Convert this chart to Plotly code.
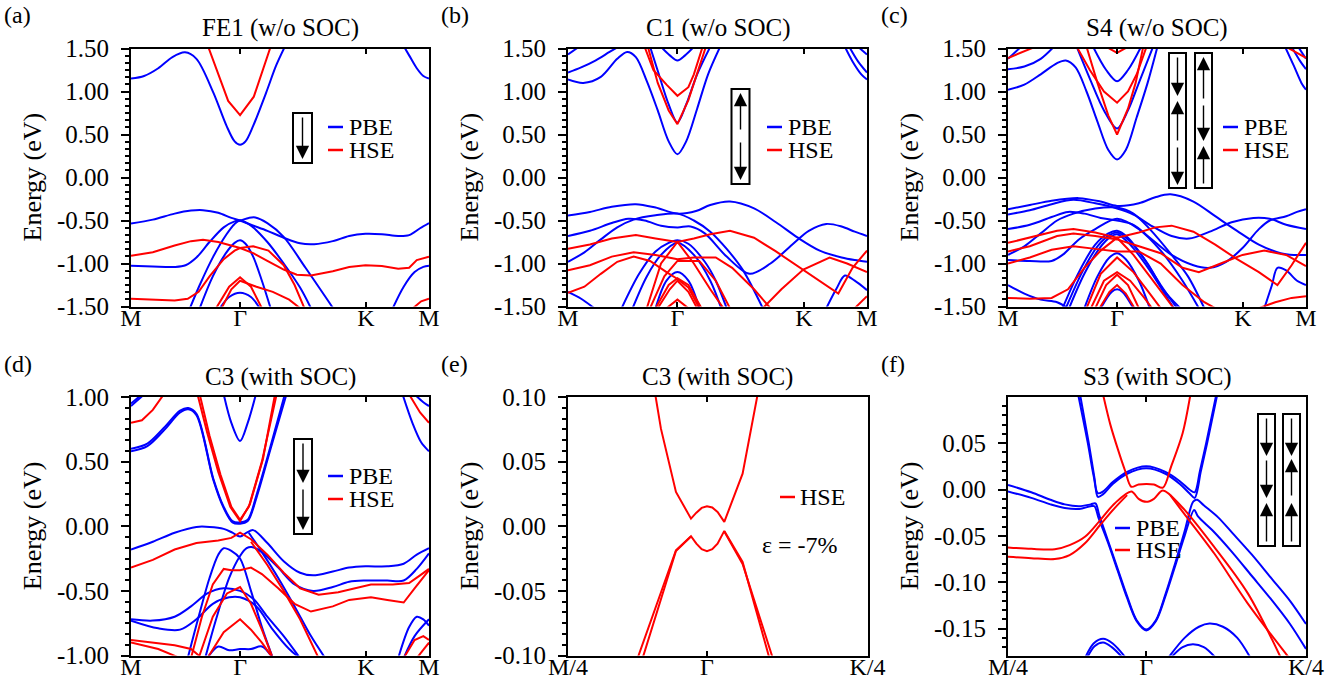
import plotly.graph_objects as go

W, H = 1329, 682
FONT = "Liberation Serif"
BLUE = "#0000ff"
RED = "#ff0000"

# ---------------- high-symmetry path (units of |Gamma-M|) ----------------
PATH_TICKS = [0.0, 1.0, 2.1547, 2.7321]
PATH_LABELS = ["M", "Γ", "K", "M"]
ZOOM_TICKS = [-0.1443, 0.0, 0.1667]
ZOOM_LABELS = ["M/4", "Γ", "K/4"]

# ---------------- (a) FE1 w/o SOC ----------------
A_PBE = [
    [(0, 1.15), (0.12, 1.18), (0.25, 1.27), (0.38, 1.40), (0.495, 1.455), (0.6, 1.38), (0.754, 0.99), (0.876, 0.60),
     (0.95, 0.42), (1.0, 0.38), (1.05, 0.42), (1.12, 0.60), (1.24, 0.99), (1.33, 1.30), (1.41, 1.52)],
    [(2.49, 1.55), (2.55, 1.42), (2.62, 1.27), (2.68, 1.18), (2.732, 1.15)],
    [(0, -0.535), (0.2, -0.49), (0.4, -0.42), (0.55, -0.385), (0.66, -0.38), (0.8, -0.41), (0.92, -0.47), (1.0, -0.50),
     (1.1, -0.55), (1.25, -0.62), (1.4, -0.70), (1.55, -0.765), (1.68, -0.775), (1.85, -0.74), (2.0, -0.68),
     (2.15, -0.655), (2.3, -0.66), (2.45, -0.68), (2.55, -0.67), (2.65, -0.59), (2.732, -0.53)],
    [(0, -1.027), (0.2, -1.035), (0.4, -1.04), (0.5, -1.02), (0.6, -0.93), (0.72, -0.75), (0.85, -0.58), (0.95, -0.51),
     (1.0, -0.50), (1.08, -0.47), (1.14, -0.465), (1.25, -0.53), (1.4, -0.69), (1.6, -1.05), (1.853, -1.52)],
    [(0.54, -1.52), (0.63, -1.25), (0.754, -0.92), (0.876, -0.66), (0.95, -0.54), (1.0, -0.50), (1.1, -0.56),
     (1.25, -0.75), (1.4, -1.0), (1.55, -1.28), (1.65, -1.52)],
    [(0.63, -1.52), (0.75, -1.15), (0.87, -0.88), (0.95, -0.76), (1.0, -0.73), (1.05, -0.77), (1.12, -0.92),
     (1.2, -1.2), (1.28, -1.52)],
    [(0.815, -1.52), (0.9, -1.39), (1.0, -1.34), (1.1, -1.39), (1.18, -1.52)],
    [(2.40, -1.52), (2.5, -1.27), (2.6, -1.1), (2.68, -1.04), (2.732, -1.027)],
]
A_HSE = [
    [(0.708, 1.52), (0.891, 0.89), (1.0, 0.725), (1.126, 0.94), (1.28, 1.52)],
    [(0, -0.91), (0.2, -0.87), (0.4, -0.79), (0.55, -0.74), (0.66, -0.725), (0.8, -0.75), (1.0, -0.82), (1.12, -0.88),
     (1.25, -0.97), (1.4, -1.07), (1.52, -1.13), (1.65, -1.14), (1.85, -1.09), (2.0, -1.04), (2.15, -1.02),
     (2.3, -1.03), (2.45, -1.06), (2.55, -1.05), (2.62, -0.96), (2.732, -0.92)],
    [(0, -1.41), (0.2, -1.42), (0.4, -1.43), (0.52, -1.41), (0.62, -1.33), (0.72, -1.15), (0.85, -0.95),
     (0.95, -0.85), (1.0, -0.82), (1.12, -0.80), (1.26, -0.85), (1.4, -1.02), (1.5, -1.25), (1.59, -1.52)],
    [(0.78, -1.52), (0.9, -1.27), (1.0, -1.16), (1.1, -1.27), (1.2, -1.52)],
    [(0.83, -1.52), (0.92, -1.3), (1.0, -1.2), (1.15, -1.27), (1.3, -1.33), (1.45, -1.42), (1.55, -1.52)],
    [(2.585, -1.52), (2.66, -1.44), (2.732, -1.41)],
]

# ---------------- (b) C1 w/o SOC ----------------
B_PBE = [
    [(0, 1.14), (0.14, 1.10), (0.3, 1.17), (0.45, 1.38), (0.54, 1.46), (0.62, 1.40), (0.72, 1.12), (0.82, 0.78),
     (0.92, 0.42), (1.0, 0.27), (1.08, 0.42), (1.18, 0.80), (1.28, 1.20), (1.39, 1.52)],
    [(2.53, 1.52), (2.6, 1.35), (2.68, 1.2), (2.732, 1.14)],
    [(0, 1.22), (0.12, 1.28), (0.25, 1.36), (0.38, 1.46), (0.46, 1.52)],
    [(0.75, 1.52), (0.83, 1.2), (0.92, 0.85), (1.0, 0.64), (1.08, 0.85), (1.18, 1.2), (1.3, 1.52)],
    [(2.57, 1.52), (2.65, 1.35), (2.732, 1.22)],
    [(0.85, 1.52), (0.93, 1.42), (1.0, 1.36), (1.07, 1.42), (1.15, 1.52)],
    [(0, 1.43), (0.1, 1.52)],
    [(2.65, 1.52), (2.732, 1.43)],
    [(0, -0.443), (0.2, -0.40), (0.4, -0.34), (0.62, -0.31), (0.8, -0.35), (1.0, -0.42), (1.17, -0.39), (1.3, -0.32),
     (1.48, -0.28), (1.7, -0.36), (1.9, -0.52), (2.1, -0.70), (2.3, -0.85), (2.5, -0.93), (2.62, -0.96), (2.732, -0.98)],
    [(0, -0.68), (0.2, -0.62), (0.4, -0.53), (0.55, -0.48), (0.7, -0.50), (0.85, -0.56), (1.0, -0.58), (1.12, -0.57),
     (1.25, -0.65), (1.45, -0.92), (1.66, -1.12), (1.85, -1.0), (2.05, -0.78), (2.2, -0.62), (2.36, -0.54),
     (2.5, -0.57), (2.62, -0.63), (2.732, -0.68)],
    [(0, -0.98), (0.15, -0.87), (0.3, -0.72), (0.45, -0.58), (0.6, -0.49), (0.8, -0.44), (1.0, -0.42), (1.15, -0.5),
     (1.3, -0.63), (1.45, -0.83), (1.6, -1.08), (1.78, -1.52)],
    [(0, -1.33), (0.12, -1.41), (0.24, -1.52)],
    [(0.49, -1.52), (0.65, -1.12), (0.8, -0.86), (0.92, -0.76), (1.0, -0.73), (1.1, -0.77), (1.25, -0.98),
     (1.35, -1.2), (1.45, -1.52)],
    [(0.59, -1.52), (0.72, -1.15), (0.85, -0.9), (1.0, -0.76), (1.15, -0.9), (1.3, -1.2), (1.4, -1.52)],
    [(0.8, -1.52), (0.9, -1.2), (1.0, -1.1), (1.1, -1.2), (1.2, -1.52)],
    [(2.36, -1.52), (2.45, -1.3), (2.53, -1.14), (2.62, -1.2), (2.732, -1.31)],
]
B_HSE = [
    [(0.73, 1.52), (0.82, 1.1), (0.92, 0.78), (1.0, 0.62), (1.1, 0.9), (1.18, 1.2), (1.26, 1.52)],
    [(0.70, 1.52), (0.78, 1.25), (0.9, 1.08), (1.0, 0.95), (1.1, 1.05), (1.15, 1.2), (1.23, 1.52)],
    [(0, -0.83), (0.2, -0.78), (0.4, -0.71), (0.62, -0.67), (0.8, -0.71), (1.0, -0.75), (1.15, -0.71), (1.3, -0.66),
     (1.48, -0.62), (1.7, -0.70), (1.9, -0.86), (2.1, -1.03), (2.3, -1.2), (2.47, -1.35), (2.6, -1.05), (2.732, -0.85)],
    [(1.78, -1.52), (1.95, -1.3), (2.15, -1.07), (2.39, -0.93), (2.55, -1.0), (2.732, -1.1)],
    [(0, -1.08), (0.2, -1.02), (0.4, -0.92), (0.6, -0.87), (0.8, -0.9), (1.0, -0.95), (1.15, -0.93), (1.35, -0.93),
     (1.5, -1.05), (1.7, -1.3), (1.85, -1.52)],
    [(0, -1.34), (0.15, -1.27), (0.3, -1.12), (0.45, -0.98), (0.6, -0.92), (0.75, -0.97), (0.9, -1.1), (1.0, -1.18),
     (1.1, -1.28), (1.2, -1.52)],
    [(0.72, -1.52), (0.85, -1.0), (1.0, -0.75), (1.15, -1.0), (1.3, -1.3), (1.42, -1.52)],
    [(0.75, -1.52), (0.88, -1.15), (1.0, -0.97), (1.2, -0.97), (1.35, -1.2), (1.48, -1.52)],
    [(0.8, -1.52), (0.92, -1.25), (1.0, -1.17), (1.1, -1.25), (1.22, -1.52)],
    [(0.82, -1.52), (0.93, -1.3), (1.0, -1.2), (1.1, -1.33), (1.18, -1.52)],
    [(0.9, -1.52), (1.0, -1.42), (1.1, -1.52)],
    [(2.62, -1.52), (2.68, -1.45), (2.732, -1.38)],
]

# ---------------- (c) S4 w/o SOC ----------------
C_PBE = [
    [(0, 1.02), (0.15, 1.08), (0.3, 1.2), (0.45, 1.33), (0.53, 1.36), (0.62, 1.28), (0.72, 1.0), (0.82, 0.65),
     (0.92, 0.32), (1.0, 0.21), (1.08, 0.32), (1.18, 0.70), (1.28, 1.1), (1.37, 1.52)],
    [(2.54, 1.52), (2.62, 1.3), (2.69, 1.1), (2.732, 1.02)],
    [(0, 1.26), (0.15, 1.29), (0.3, 1.38), (0.42, 1.52)],
    [(0.63, 1.52), (0.75, 1.15), (0.88, 0.78), (1.0, 0.57), (1.1, 0.78), (1.2, 1.1), (1.33, 1.52)],
    [(2.6, 1.52), (2.68, 1.35), (2.732, 1.26)],
    [(0.78, 1.52), (0.9, 1.25), (1.0, 1.12), (1.1, 1.25), (1.22, 1.52)],
    [(0, 1.38), (0.12, 1.52)],
    [(2.66, 1.52), (2.732, 1.38)],
    [(0, -0.37), (0.2, -0.32), (0.4, -0.27), (0.65, -0.24), (0.85, -0.28), (1.0, -0.33), (1.2, -0.30), (1.35, -0.23),
     (1.49, -0.196), (1.7, -0.28), (1.9, -0.45), (2.1, -0.62), (2.3, -0.78), (2.5, -0.88), (2.62, -0.9), (2.732, -0.9)],
    [(0, -0.43), (0.2, -0.38), (0.4, -0.31), (0.6, -0.26), (0.8, -0.30), (1.0, -0.36), (1.15, -0.43), (1.3, -0.55),
     (1.5, -0.68), (1.66, -0.71), (1.85, -0.63), (2.05, -0.52), (2.25, -0.47), (2.4, -0.48), (2.55, -0.55), (2.732, -0.60)],
    [(0, -0.60), (0.2, -0.55), (0.4, -0.46), (0.55, -0.40), (0.7, -0.42), (0.85, -0.47), (1.0, -0.5), (1.15, -0.55),
     (1.3, -0.7), (1.5, -0.9), (1.7, -1.02), (1.85, -1.05), (2.0, -0.98), (2.15, -0.82), (2.3, -0.6), (2.4, -0.5),
     (2.55, -0.45), (2.65, -0.40), (2.732, -0.37)],
    [(0, -0.9), (0.15, -0.8), (0.3, -0.65), (0.45, -0.5), (0.6, -0.42), (0.8, -0.36), (1.0, -0.35), (1.15, -0.42),
     (1.3, -0.6), (1.5, -0.9), (1.65, -1.15), (1.8, -1.52)],
    [(0, -0.96), (0.2, -0.97), (0.4, -0.97), (0.5, -0.9), (0.65, -0.72), (0.8, -0.6), (1.0, -0.48), (1.2, -0.6),
     (1.4, -0.85), (1.6, -1.2), (1.75, -1.52)],
    [(0, -1.25), (0.15, -1.35), (0.3, -1.42), (0.45, -1.45), (0.55, -1.52)],
    [(0.5, -1.52), (0.65, -1.1), (0.8, -0.78), (0.92, -0.65), (1.0, -0.62), (1.1, -0.7), (1.25, -0.95), (1.4, -1.25),
     (1.55, -1.52)],
    [(0.53, -1.52), (0.68, -1.1), (0.82, -0.8), (0.93, -0.67), (1.0, -0.64), (1.1, -0.72), (1.28, -1.0), (1.42, -1.3),
     (1.58, -1.52)],
    [(0.56, -1.52), (0.7, -1.12), (0.84, -0.82), (0.94, -0.69), (1.0, -0.66), (1.12, -0.78), (1.3, -1.08),
     (1.45, -1.38), (1.52, -1.52)],
    [(0.7, -1.52), (0.82, -1.15), (0.93, -0.93), (1.0, -0.88), (1.08, -0.95), (1.2, -1.2), (1.3, -1.52)],
    [(0.85, -1.52), (0.95, -1.33), (1.0, -1.3), (1.05, -1.33), (1.15, -1.52)],
    [(2.35, -1.52), (2.42, -1.25), (2.47, -1.05), (2.55, -1.08), (2.65, -1.2), (2.732, -1.25)],
]
C_HSE = [
    [(0.72, 1.52), (0.82, 1.1), (0.92, 0.72), (1.0, 0.5), (1.1, 0.8), (1.17, 1.1), (1.24, 1.52)],
    [(0.63, 1.52), (0.75, 1.25), (0.88, 1.0), (1.0, 0.87), (1.1, 1.0), (1.18, 1.2), (1.27, 1.52)],
    [(0.9, 1.52), (1.0, 1.45), (1.1, 1.52)],
    [(0, 1.39), (0.12, 1.45), (0.25, 1.52)],
    [(2.55, 1.52), (2.65, 1.45), (2.732, 1.39)],
    [(0, -0.76), (0.2, -0.7), (0.45, -0.62), (0.6, -0.6), (0.8, -0.64), (1.0, -0.7), (1.2, -0.64), (1.35, -0.58),
     (1.5, -0.56), (1.7, -0.63), (1.9, -0.78), (2.1, -0.95), (2.3, -1.1), (2.47, -1.25), (2.6, -1.02), (2.732, -0.76)],
    [(0, -0.86), (0.2, -0.8), (0.45, -0.68), (0.6, -0.65), (0.8, -0.68), (1.0, -0.72), (1.2, -0.8), (1.4, -0.88),
     (1.6, -1.05), (1.75, -1.1), (1.95, -1.0), (2.15, -0.9), (2.35, -0.85), (2.55, -0.9), (2.732, -1.03)],
    [(0, -1.0), (0.2, -0.93), (0.4, -0.84), (0.6, -0.8), (0.8, -0.83), (1.0, -0.86), (1.2, -0.86), (1.4, -1.0),
     (1.6, -1.25), (1.8, -1.45), (1.9, -1.52)],
    [(0, -1.40), (0.2, -1.41), (0.4, -1.4), (0.55, -1.3), (0.7, -1.05), (0.85, -0.85), (1.0, -0.70), (1.15, -0.9),
     (1.3, -1.15), (1.45, -1.4), (1.52, -1.52)],
    [(0.72, -1.52), (0.85, -1.12), (1.0, -0.93), (1.15, -1.1), (1.3, -1.35), (1.4, -1.52)],
    [(0.76, -1.52), (0.88, -1.2), (1.0, -1.1), (1.12, -1.2), (1.25, -1.4), (1.32, -1.52)],
    [(0.8, -1.52), (0.9, -1.25), (1.0, -1.13), (1.1, -1.25), (1.2, -1.52)],
    [(0.84, -1.52), (0.93, -1.33), (1.0, -1.25), (1.08, -1.35), (1.16, -1.52)],
    [(2.3, -1.52), (2.45, -1.45), (2.6, -1.4), (2.732, -1.38)],
]

# ---------------- (d) C3 with SOC ----------------
D_PBE = [
    [(0.85, 1.02), (0.92, 0.8), (1.0, 0.66), (1.07, 0.8), (1.145, 1.02)],
    [(0, 0.58), (0.15, 0.62), (0.3, 0.74), (0.45, 0.88), (0.525, 0.905), (0.6, 0.86), (0.754, 0.36), (0.85, 0.14),
     (0.93, 0.03), (1.0, 0.02), (1.07, 0.04), (1.15, 0.22), (1.28, 0.6), (1.425, 1.02)],
    [(0, 0.60), (0.15, 0.64), (0.3, 0.76), (0.45, 0.895), (0.525, 0.915), (0.6, 0.87), (0.754, 0.37), (0.85, 0.15),
     (0.93, 0.04), (1.0, 0.03), (1.07, 0.05), (1.15, 0.24), (1.28, 0.62), (1.41, 1.02)],
    [(0, 0.95), (0.1, 1.02)],
    [(0, 0.93), (0.12, 1.02)],
    [(2.49, 1.02), (2.58, 0.8), (2.66, 0.65), (2.732, 0.58)],
    [(2.6, 1.02), (2.68, 0.96), (2.732, 0.93)],
    [(0, -0.18), (0.2, -0.12), (0.4, -0.05), (0.6, -0.005), (0.72, -0.005), (0.85, -0.02), (0.93, -0.05), (1.0, -0.08),
     (1.06, -0.05), (1.12, -0.03), (1.25, -0.13), (1.4, -0.27), (1.55, -0.36), (1.67, -0.38), (1.85, -0.35),
     (2.0, -0.32), (2.15, -0.31), (2.35, -0.31), (2.5, -0.29), (2.62, -0.22), (2.732, -0.17)],
    [(0.52, -1.02), (0.62, -0.7), (0.72, -0.4), (0.8, -0.22), (0.85, -0.17), (0.92, -0.19), (1.0, -0.25), (1.1, -0.5),
     (1.2, -0.78), (1.3, -1.02)],
    [(0.68, -1.02), (0.78, -0.72), (0.9, -0.4), (1.0, -0.23), (1.06, -0.17), (1.105, -0.16), (1.2, -0.2),
     (1.35, -0.32), (1.5, -0.45), (1.67, -0.5), (1.85, -0.47), (2.0, -0.43), (2.15, -0.42), (2.35, -0.42),
     (2.5, -0.42), (2.62, -0.33), (2.732, -0.21)],
    [(1.08, -0.05), (1.2, -0.2), (1.35, -0.4), (1.5, -0.62), (1.65, -0.85), (1.78, -1.02)],
    [(0, -0.72), (0.2, -0.73), (0.4, -0.7), (0.55, -0.62), (0.7, -0.52), (0.85, -0.48), (1.0, -0.5), (1.12, -0.56),
     (1.25, -0.7), (1.4, -0.85), (1.55, -1.02)],
    [(0, -0.73), (0.25, -0.79), (0.45, -0.80), (0.6, -0.72), (0.75, -0.6), (0.9, -0.55), (1.0, -0.55), (1.15, -0.62),
     (1.3, -0.8), (1.45, -0.95), (1.55, -1.02)],
    [(0.7, -1.02), (0.8, -0.93), (0.9, -0.96), (1.0, -0.95), (1.1, -0.95), (1.2, -0.93), (1.3, -1.02)],
    [(2.45, -1.02), (2.55, -0.78), (2.62, -0.7), (2.68, -0.72), (2.732, -0.77)],
    [(2.5, -1.02), (2.6, -0.85), (2.732, -0.72)],
]
D_HSE = [
    [(0.63, 1.02), (0.72, 0.7), (0.82, 0.4), (0.92, 0.15), (1.0, 0.05), (1.08, 0.15), (1.2, 0.5), (1.335, 1.02)],
    [(0.61, 1.02), (0.7, 0.72), (0.8, 0.42), (0.91, 0.15), (1.0, 0.04), (1.09, 0.17), (1.21, 0.52), (1.32, 1.02)],
    [(0, 0.80), (0.1, 0.82), (0.2, 0.9), (0.3, 1.02)],
    [(2.55, 1.02), (2.65, 0.88), (2.732, 0.80)],
    [(0, -0.32), (0.2, -0.26), (0.4, -0.18), (0.6, -0.13), (0.8, -0.11), (0.92, -0.09), (1.0, -0.05), (1.1, -0.1),
     (1.25, -0.22), (1.4, -0.36), (1.55, -0.48), (1.72, -0.53), (1.9, -0.51), (2.05, -0.48), (2.2, -0.45),
     (2.4, -0.45), (2.55, -0.44), (2.65, -0.38), (2.732, -0.33)],
    [(1.1, -0.12), (1.25, -0.3), (1.4, -0.5), (1.55, -0.72), (1.72, -1.02)],
    [(0.55, -1.02), (0.65, -0.7), (0.75, -0.45), (0.85, -0.33), (0.92, -0.34), (1.0, -0.34), (1.1, -0.32),
     (1.2, -0.37), (1.35, -0.48), (1.5, -0.6), (1.65, -0.66), (1.85, -0.62), (2.0, -0.57), (2.2, -0.55),
     (2.35, -0.57), (2.5, -0.59), (2.6, -0.48), (2.732, -0.34)],
    [(0.62, -1.02), (0.75, -0.7), (0.88, -0.52), (1.0, -0.47), (1.1, -0.6), (1.2, -0.8), (1.3, -1.02)],
    [(0.7, -1.02), (0.85, -0.82), (1.0, -0.72), (1.1, -0.8), (1.2, -0.9), (1.3, -1.02)],
    [(0, -0.88), (0.2, -0.9), (0.4, -0.92), (0.55, -0.95), (0.65, -1.02)],
    [(0, -0.9), (0.25, -0.95), (0.45, -1.02)],
    [(2.5, -1.02), (2.6, -0.88), (2.68, -0.85), (2.732, -0.88)],
    [(2.62, -1.02), (2.732, -0.9)],
]

# ---------------- (e) C3 with SOC, strain -7% ----------------
E_HSE = [
    [(-0.0537, 0.102), (-0.0478, 0.0755), (-0.0322, 0.0266), (-0.0166, 0.0059), (-0.011, 0.0105), (-0.0055, 0.0142),
     (0.0, 0.0155), (0.0055, 0.0145), (0.011, 0.011), (0.018, 0.0034), (0.037, 0.0407), (0.0526, 0.102)],
    [(-0.072, -0.102), (-0.0322, -0.0186), (-0.0166, -0.0077), (-0.011, -0.0135), (-0.0055, -0.0178), (0.0, -0.0193),
     (0.0055, -0.0178), (0.011, -0.0135), (0.018, -0.0036), (0.037, -0.0276), (0.0648, -0.102)],
    [(-0.0668, -0.102), (-0.0322, -0.0192), (-0.0166, -0.008)],
    [(0.018, -0.004), (0.037, -0.0292), (0.0683, -0.102)],
]

# ---------------- (f) S3 with SOC ----------------
F_PBE = [
    [(-0.071, 0.102), (-0.061, 0.05), (-0.055, 0.015), (-0.0505, -0.004), (-0.045, -0.002), (-0.035, 0.008),
     (-0.02, 0.019), (0.0, 0.025), (0.02, 0.019), (0.035, 0.009), (0.045, 0.0), (0.0505, -0.003), (0.056, 0.02),
     (0.0625, 0.05), (0.073, 0.102)],
    [(-0.069, 0.102), (-0.06, 0.05), (-0.054, 0.012), (-0.0505, -0.008), (-0.045, -0.005), (-0.035, 0.006),
     (-0.02, 0.017), (0.0, 0.023), (0.02, 0.017), (0.035, 0.006), (0.045, -0.004), (0.0505, -0.009), (0.057, 0.02),
     (0.0635, 0.05), (0.074, 0.102)],
    [(-0.1443, 0.005), (-0.12, -0.003), (-0.1, -0.011), (-0.085, -0.016), (-0.07, -0.018), (-0.058, -0.016),
     (-0.053, -0.015), (-0.049, -0.028), (-0.04, -0.055), (-0.03, -0.085), (-0.02, -0.115), (-0.01, -0.141),
     (0.0, -0.151), (0.01, -0.141), (0.02, -0.113), (0.03, -0.08), (0.04, -0.045), (0.049, -0.013),
     (0.053, -0.011), (0.06, -0.017), (0.075, -0.03), (0.09, -0.047), (0.11, -0.07), (0.13, -0.095),
     (0.15, -0.12), (0.1667, -0.145)],
    [(-0.1443, -0.002), (-0.12, -0.009), (-0.1, -0.016), (-0.085, -0.02), (-0.07, -0.021), (-0.058, -0.018),
     (-0.054, -0.018), (-0.05, -0.03), (-0.04, -0.057), (-0.03, -0.087), (-0.02, -0.117), (-0.01, -0.142),
     (0.0, -0.152), (0.01, -0.142), (0.02, -0.115), (0.03, -0.083), (0.04, -0.05), (0.05, -0.022),
     (0.054, -0.029), (0.07, -0.045), (0.09, -0.068), (0.11, -0.093), (0.13, -0.118), (0.15, -0.145),
     (0.1667, -0.172)],
    [(-0.064, -0.182), (-0.055, -0.166), (-0.045, -0.161), (-0.035, -0.166), (-0.021, -0.182)],
    [(-0.062, -0.182), (-0.054, -0.169), (-0.045, -0.165), (-0.036, -0.17), (-0.024, -0.182)],
    [(0.0226, -0.182), (0.04, -0.16), (0.055, -0.148), (0.066, -0.1446), (0.08, -0.148), (0.095, -0.16),
     (0.109, -0.182)],
    [(0.025, -0.182), (0.038, -0.17), (0.0486, -0.167), (0.06, -0.17), (0.073, -0.182)],
]
F_HSE = [
    [(-0.045, 0.102), (-0.0375, 0.07), (-0.0295, 0.043), (-0.022, 0.02), (-0.0156, 0.003), (-0.008, 0.0055),
     (0.0, 0.006), (0.008, 0.0055), (0.0174, 0.002), (0.026, 0.025), (0.038, 0.061), (0.046, 0.102)],
    [(-0.1443, -0.0624), (-0.12, -0.064), (-0.0955, -0.0645), (-0.08, -0.06), (-0.064, -0.051), (-0.048, -0.033),
     (-0.033, -0.015), (-0.0156, -0.002), (-0.008, -0.01), (0.0, -0.0133), (0.008, -0.01), (0.0174, -0.001),
     (0.0365, -0.018), (0.071, -0.062), (0.106, -0.112), (0.1407, -0.182)],
    [(-0.1443, -0.0725), (-0.12, -0.074), (-0.0955, -0.075), (-0.08, -0.0707), (-0.064, -0.058), (-0.048, -0.038),
     (-0.033, -0.02), (-0.02, -0.006)],
    [(0.025, -0.006), (0.0365, -0.022), (0.071, -0.069), (0.106, -0.123), (0.1494, -0.182)],
]

# ---------------- panel setup ----------------
ROW1 = (48.5, 306.5)
ROW2 = (397.0, 655.5)
PANELS = [
    dict(tag="(a)", title="FE1 (w/o SOC)", xpx=(131, 429), ypx=ROW1, pbe=A_PBE, hse=A_HSE,
         xt=PATH_TICKS, xl=PATH_LABELS, yr=(-1.5, 1.5), yt=[-1.5, -1.0, -0.5, 0.0, 0.5, 1.0, 1.5], minor=0.5 / 6,
         hse_shape="linear"),
    dict(tag="(b)", title="C1 (w/o SOC)", xpx=(568, 867), ypx=ROW1, pbe=B_PBE, hse=B_HSE,
         xt=PATH_TICKS, xl=PATH_LABELS, yr=(-1.5, 1.5), yt=[-1.5, -1.0, -0.5, 0.0, 0.5, 1.0, 1.5], minor=0.5 / 6,
         hse_shape="linear"),
    dict(tag="(c)", title="S4 (w/o SOC)", xpx=(1008, 1306), ypx=ROW1, pbe=C_PBE, hse=C_HSE,
         xt=PATH_TICKS, xl=PATH_LABELS, yr=(-1.5, 1.5), yt=[-1.5, -1.0, -0.5, 0.0, 0.5, 1.0, 1.5], minor=0.5 / 6,
         hse_shape="linear"),
    dict(tag="(d)", title="C3 (with SOC)", xpx=(131, 429), ypx=ROW2, pbe=D_PBE, hse=D_HSE,
         xt=PATH_TICKS, xl=PATH_LABELS, yr=(-1.0, 1.0), yt=[-1.0, -0.5, 0.0, 0.5, 1.0], minor=0.5 / 6,
         hse_shape="linear"),
    dict(tag="(e)", title="C3 (with SOC)", xpx=(568, 867.5), ypx=ROW2, pbe=[], hse=E_HSE,
         xt=ZOOM_TICKS, xl=ZOOM_LABELS, yr=(-0.1, 0.1), yt=[-0.1, -0.05, 0.0, 0.05, 0.1], minor=0.05 / 6,
         hse_shape="linear"),
    dict(tag="(f)", title="S3 (with SOC)", xpx=(1008, 1306), ypx=ROW2, pbe=F_PBE, hse=F_HSE,
         xt=ZOOM_TICKS, xl=ZOOM_LABELS, yr=(-0.179, 0.0998), yt=[-0.15, -0.1, -0.05, 0.0, 0.05], minor=0.01,
         hse_shape="spline"),
]


def fx(x):
    return x / W


def fy(y):
    return 1 - y / H


def fmt(v):
    s = f"{v:.2f}"
    return "0.00" if s == "-0.00" else s


fig = go.Figure()
layout = dict(
    width=W, height=H, margin=dict(l=0, r=0, t=0, b=0),
    paper_bgcolor="white", plot_bgcolor="white", showlegend=False,
    font=dict(family=FONT, size=24, color="black"),
)
shapes = []
annotations = []

for i, P in enumerate(PANELS, start=1):
    sfx = "" if i == 1 else str(i)
    xa, ya = "x" + sfx, "y" + sfx
    for band in P["pbe"]:
        fig.add_trace(go.Scatter(x=[p[0] for p in band], y=[p[1] for p in band], mode="lines", name="PBE",
                                 line=dict(color=BLUE, width=2, shape="spline", smoothing=0.9),
                                 xaxis=xa, yaxis=ya, hoverinfo="skip"))
    for band in P["hse"]:
        fig.add_trace(go.Scatter(x=[p[0] for p in band], y=[p[1] for p in band], mode="lines", name="HSE",
                                 line=dict(color=RED, width=2, shape=P["hse_shape"], smoothing=0.9),
                                 xaxis=xa, yaxis=ya, hoverinfo="skip"))
    x0, x1 = P["xpx"]
    y0, y1 = P["ypx"]
    layout["xaxis" + sfx] = dict(
        domain=[fx(x0), fx(x1)], anchor=ya, range=[P["xt"][0], P["xt"][-1]],
        tickmode="array", tickvals=P["xt"], ticktext=P["xl"],
        ticks="inside", ticklen=5, tickwidth=1.5, tickcolor="black",
        showline=True, linecolor="black", linewidth=2, mirror="ticks",
        showgrid=False, zeroline=False, automargin=False,
        tickfont=dict(family=FONT, size=24), ticklabelstandoff=-11,
    )
    layout["yaxis" + sfx] = dict(
        domain=[fy(y1), fy(y0)], anchor=xa, range=list(P["yr"]),
        tickmode="array", tickvals=P["yt"], ticktext=[fmt(v) for v in P["yt"]],
        ticks="outside", ticklen=8, tickwidth=1.5, tickcolor="black",
        minor=dict(tickmode="linear", tick0=0, dtick=P["minor"], ticks="outside", ticklen=4,
                   tickwidth=1.5, tickcolor="black", showgrid=False),
        showline=True, linecolor="black", linewidth=2, mirror=True,
        showgrid=False, zeroline=False, automargin=False,
        tickfont=dict(family=FONT, size=25), ticklabelstandoff=7,
    )
    cx = (x0 + x1) / 2
    annotations.append(dict(text=P["title"], x=fx(cx), y=fy(y0 - 20), xref="paper", yref="paper",
                            showarrow=False, font=dict(family=FONT, size=25), xanchor="center", yanchor="middle"))
    annotations.append(dict(text=P["tag"], x=fx(x0 - 129), y=fy(y0 - 33), xref="paper", yref="paper",
                            showarrow=False, font=dict(family=FONT, size=24), xanchor="left", yanchor="middle"))
    annotations.append(dict(text="Energy (eV)", x=fx(x0 - 99), y=fy((y0 + y1) / 2), xref="paper", yref="paper",
                            showarrow=False, textangle=-90, font=dict(family=FONT, size=26),
                            xanchor="center", yanchor="middle"))

# ---------------- legends (short line samples + text) ----------------
LEGENDS = [
    (328, 347, [("PBE", BLUE, 127), ("HSE", RED, 150)]),
    (767, 786, [("PBE", BLUE, 127), ("HSE", RED, 150)]),
    (1223, 1242, [("PBE", BLUE, 127), ("HSE", RED, 150)]),
    (328, 347, [("PBE", BLUE, 476), ("HSE", RED, 499)]),
    (780, 798, [("HSE", RED, 497)]),
    (1115, 1134, [("PBE", BLUE, 528), ("HSE", RED, 550)]),
]
for lx, tx, items in LEGENDS:
    for name, col, yy in items:
        shapes.append(dict(type="line", xref="paper", yref="paper", x0=fx(lx), x1=fx(lx + 15),
                           y0=fy(yy), y1=fy(yy), line=dict(color=col, width=2.5)))
        annotations.append(dict(text=name, x=fx(tx), y=fy(yy), xref="paper", yref="paper", showarrow=False,
                                font=dict(family=FONT, size=24), xanchor="left", yanchor="middle"))

annotations.append(dict(text="ε = -7%", x=fx(800), y=fy(545), xref="paper", yref="paper", showarrow=False,
                        font=dict(family=FONT, size=24), xanchor="center", yanchor="middle"))

# ---------------- spin-configuration boxes ----------------
BOXES = [(293, 113, 312, 163), (731.5, 89, 749.5, 184), (1169, 53, 1186, 188), (1195, 53, 1212, 188),
         (294, 439, 312, 534), (1258, 414, 1275, 546), (1283, 414, 1300, 546)]
for bx0, by0, bx1, by1 in BOXES:
    shapes.append(dict(type="rect", xref="paper", yref="paper", x0=fx(bx0), x1=fx(bx1), y0=fy(by1), y1=fy(by0),
                       line=dict(color="black", width=2), fillcolor="rgba(0,0,0,0)"))

# (x, tail_y, head_y) in pixels
SPIN_ARROWS = [
    (302.5, 116, 159),
    (740.5, 131, 93), (740.5, 141, 180),
    (1177.5, 56, 96), (1177.5, 142, 101), (1177.5, 146, 185),
    (1203.5, 100, 57), (1203.5, 104, 141), (1203.5, 185, 146),
    (303, 442, 483), (303, 488, 530),
    (1266.5, 417, 456), (1266.5, 459, 498), (1266.5, 543, 503),
    (1291.5, 417, 456), (1291.5, 497, 459), (1291.5, 543, 503),
]
for ax_, ty, hy in SPIN_ARROWS:
    annotations.append(dict(x=fx(ax_), y=fy(hy), xref="paper", yref="paper", text="", showarrow=True,
                            ax=0, ay=ty - hy, axref="pixel", ayref="pixel", arrowhead=2, arrowsize=1.9,
                            arrowwidth=1.4, arrowcolor="black", standoff=0, startstandoff=0))

layout["shapes"] = shapes
layout["annotations"] = annotations
fig.update_layout(**layout)
fig.write_html("out.html", config={"displayModeBar": False},
               post_script="document.body.style.margin='0px';document.body.style.overflow='hidden';")
